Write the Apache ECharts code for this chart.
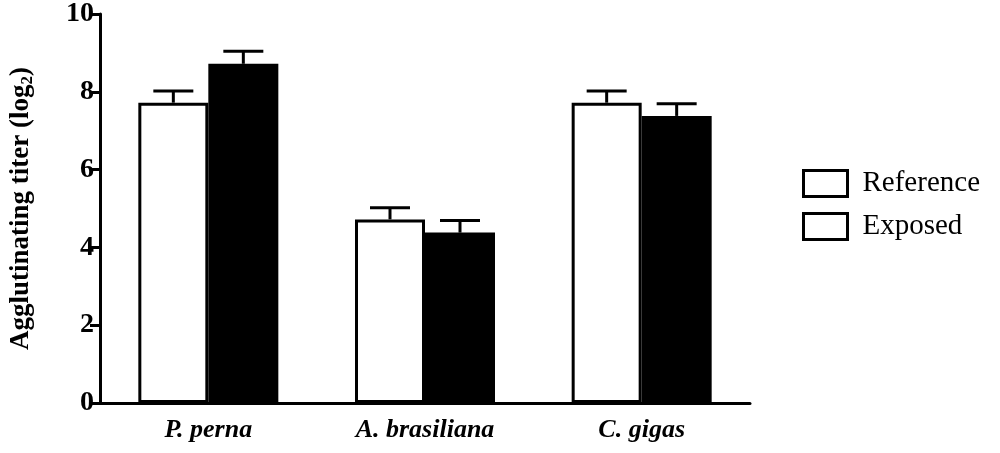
<!DOCTYPE html>
<html><head><meta charset="utf-8">
<script src="https://cdn.jsdelivr.net/npm/echarts@6/dist/echarts.min.js"></script>
</head><body style="margin:0">
<div id="main" style="width:1000px;height:453px"></div>
<script>
var categories = ['P. perna', 'A. brasiliana', 'C. gigas'];
var reference = [7.72, 4.72, 7.72];
var referenceErr = [0.3, 0.3, 0.3];
var exposed = [8.72, 4.38, 7.38];
var exposedErr = [0.32, 0.31, 0.31];
var yTicks = [0, 2, 4, 6, 8, 10];

var font = 'Liberation Serif';
var myChart = echarts.init(document.getElementById('main'));

function errSeries(vals, errs, shift) {
    return {
        type: 'custom',
        silent: true,
        z: 1,
        data: vals.map(function (v, i) { return [i, v, v + errs[i]]; }),
        renderItem: function (params, api) {
            var lo = api.coord([api.value(0), api.value(1)]);
            var hi = api.coord([api.value(0), api.value(2)]);
            var x = lo[0] + shift;
            var st = { stroke: '#000', lineWidth: 3 };
            return {
                type: 'group',
                children: [
                    { type: 'line', shape: { x1: x, y1: lo[1], x2: x, y2: hi[1] }, style: st },
                    { type: 'line', shape: { x1: x - 20, y1: hi[1], x2: x + 20, y2: hi[1] }, style: st }
                ]
            };
        }
    };
}

option = {
    animation: false,
    grid: { left: 95, right: 250, top: 13, bottom: 50 },
    legend: {
        orient: 'vertical',
        left: 797,
        top: 164,
        icon: 'rect',
        itemWidth: 44,
        itemHeight: 26,
        itemGap: 14,
        data: ['Reference', 'Exposed'],
        itemStyle: { color: '#fff', borderColor: '#000', borderWidth: 3 },
        textStyle: { fontFamily: font, fontSize: 29, color: '#000', padding: [0, 0, 0, 10] }
    },
    xAxis: {
        type: 'category',
        data: categories,
        axisLine: { lineStyle: { color: '#000', width: 3 } },
        axisTick: { alignWithLabel: true, length: 10, lineStyle: { width: 3 } },
        axisLabel: { fontFamily: font, fontSize: 26, fontWeight: 'bold', fontStyle: 'italic', color: '#000', margin: 14 }
    },
    yAxis: {
        type: 'value',
        min: 0, max: 10, interval: 2,
        name: '{a|Agglutinating titer (log}{s|2}{a|)}',
        nameLocation: 'middle',
        nameGap: 64,
        nameTextStyle: {
            rich: {
                a: { fontFamily: font, fontSize: 27, fontWeight: 'bold', color: '#000' },
                s: { fontFamily: font, fontSize: 17, fontWeight: 'bold', color: '#000', verticalAlign: 'bottom', padding: [12, 0, 0, 0] }
            }
        },
        splitLine: { show: false },
        axisLine: { show: true, lineStyle: { color: '#000', width: 3 } },
        axisTick: { show: true, length: 10, lineStyle: { width: 3 } },
        axisLabel: {
            fontFamily: font, fontSize: 28, fontWeight: 'bold', color: '#000', margin: 6,
            formatter: function (v) { return yTicks.indexOf(v) >= 0 ? String(v) : ''; }
        }
    },
    series: [
        {
            name: 'Reference', type: 'bar', data: reference, barWidth: 70, barGap: '0%', z: 2,
            itemStyle: { color: '#fff', borderColor: '#000', borderWidth: 3 }
        },
        {
            name: 'Exposed', type: 'bar', data: exposed, barWidth: 70, z: 2,
            itemStyle: { color: '#000', borderColor: '#000', borderWidth: 3 }
        },
        errSeries(reference, referenceErr, -35),
        errSeries(exposed, exposedErr, 35)
    ]
};

myChart.setOption(option);
</script>
</body></html>
